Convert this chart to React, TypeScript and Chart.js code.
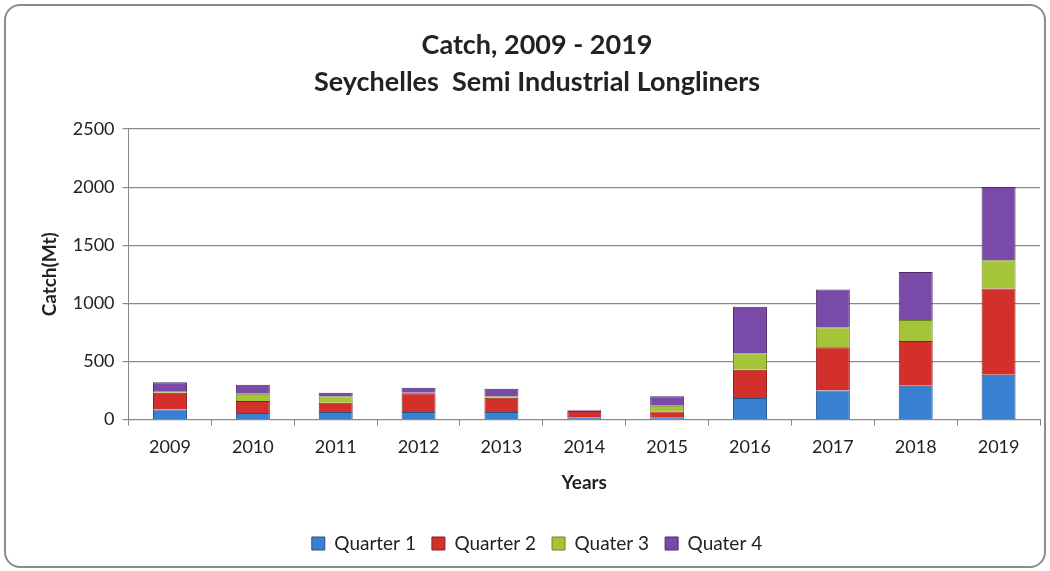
import React, { useEffect, useRef } from "react";
import { Chart, registerables } from "chart.js";

Chart.register(...registerables);

const years = ["2009", "2010", "2011", "2012", "2013", "2014", "2015", "2016", "2017", "2018", "2019"];
const quarter1 = [86, 57, 66, 66, 66, 15, 20, 186, 251, 291, 385];
const quarter2 = [146, 103, 80, 160, 123, 60, 50, 242, 371, 385, 742];
const quarter3 = [15, 63, 54, 5, 11, 2, 50, 143, 172, 180, 243];
const quarter4 = [75, 77, 32, 43, 65, 8, 80, 399, 325, 414, 630];
const seriesLabels = ["Quarter 1", "Quarter 2", "Quater 3", "Quater 4"];
const titleLines = ["Catch, 2009 - 2019", "Seychelles  Semi Industrial Longliners"];

const FONT = "Lato, 'Open Sans', sans-serif";

export default function App() {
  const ref = useRef<HTMLCanvasElement | null>(null);
  useEffect(() => {
    if (!ref.current) return;
    const colors = ["#3a80d2", "#d3302c", "#a6c43a", "#7a4aa8"];
    const borders = ["#24528a", "#8a1d1b", "#6b8524", "#4a2c6a"];
    const data = [quarter1, quarter2, quarter3, quarter4];
    const chart = new Chart(ref.current, {
      type: "bar",
      data: {
        labels: years,
        datasets: data.map((d, i) => ({
          label: seriesLabels[i],
          data: d,
          backgroundColor: colors[i],
          borderColor: borders[i],
          borderWidth: 1,
          barPercentage: 0.41,
          categoryPercentage: 1,
        })),
      },
      options: {
        animation: false,
        responsive: false,
        maintainAspectRatio: false,
        layout: { padding: { left: 28, right: 4, top: 21, bottom: 3 } },
        plugins: {
          title: {
            display: true,
            text: titleLines,
            color: "#222",
            font: { family: FONT, size: 27, weight: "bold", lineHeight: 1.37 },
            padding: { top: 0, bottom: 28 },
          },
          legend: {
            position: "bottom",
            labels: {
              color: "#222",
              font: { family: FONT, size: 19 },
              boxWidth: 13,
              boxHeight: 13,
              padding: 16,
            },
          },
          tooltip: { enabled: false },
        },
        scales: {
          x: {
            stacked: true,
            grid: {
              display: true,
              drawOnChartArea: false,
              drawTicks: true,
              tickLength: 6,
              color: "#888",
              offset: true,
            },
            border: { color: "#888", width: 1 },
            ticks: { color: "#222", font: { family: FONT, size: 18 }, padding: 11 },
            title: {
              display: true,
              text: "Years",
              color: "#222",
              font: { family: FONT, size: 19, weight: "bold" },
              padding: { top: 2, bottom: 24 },
            },
          },
          y: {
            stacked: true,
            min: 0,
            max: 2500,
            ticks: {
              stepSize: 500,
              color: "#222",
              font: { family: FONT, size: 18 },
              padding: 8,
              callback: (v: any) => String(v),
            },
            grid: { color: "#8a8a8a", tickLength: 6, lineWidth: 1.2 },
            border: { color: "#888", width: 1 },
            title: {
              display: true,
              text: "Catch(Mt)",
              color: "#222",
              font: { family: FONT, size: 19, weight: "bold" },
              padding: { bottom: 4 },
            },
          },
        },
      },
    });
    return () => chart.destroy();
  }, []);
  return (
    <div
      style={{
        position: "fixed",
        left: 4,
        top: 4,
        width: 1038,
        height: 560,
        border: "2px solid #8c8c8c",
        borderRadius: 16,
        background: "#fff",
        overflow: "hidden",
      }}
    >
      <canvas ref={ref} width={1038} height={560} style={{ display: "block" }} />
    </div>
  );
}
